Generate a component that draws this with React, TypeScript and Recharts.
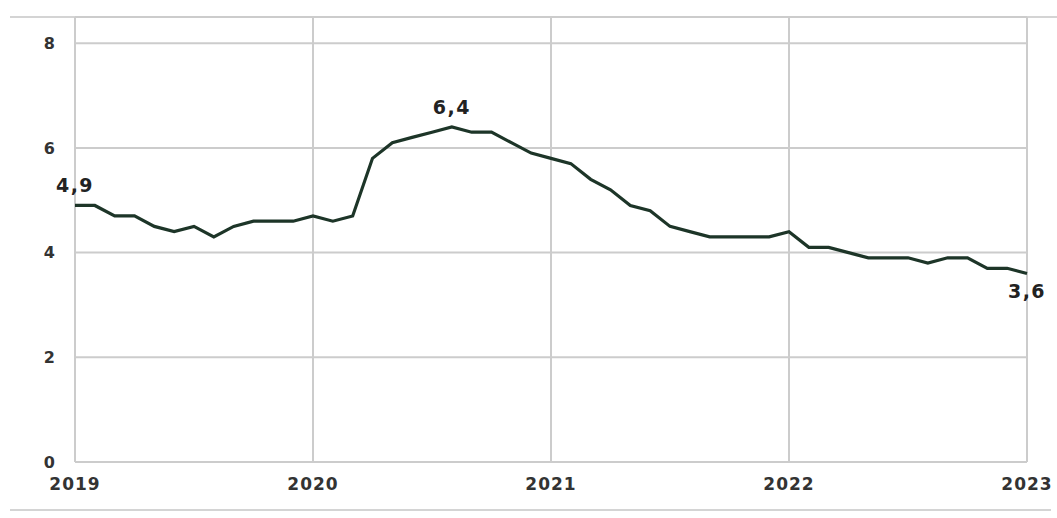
import React from "react";
import {
  CartesianGrid,
  Line,
  LineChart,
  XAxis,
  YAxis,
} from "recharts";

// monthly values, Jan 2019 .. Jan 2023
const years = ["2019", "2020", "2021", "2022", "2023"];
const values = [
  4.9, 4.9, 4.7, 4.7, 4.5, 4.4, 4.5, 4.3, 4.5, 4.6, 4.6, 4.6,
  4.7, 4.6, 4.7, 5.8, 6.1, 6.2, 6.3, 6.4, 6.3, 6.3, 6.1, 5.9,
  5.8, 5.7, 5.4, 5.2, 4.9, 4.8, 4.5, 4.4, 4.3, 4.3, 4.3, 4.3,
  4.4, 4.1, 4.1, 4.0, 3.9, 3.9, 3.9, 3.8, 3.9, 3.9, 3.7, 3.7,
  3.6,
];
const yTicks = [0, 2, 4, 6, 8];
const xTicks = [0, 12, 24, 36, 48];
// points that carry a value label, and where the label goes
const labelledAbove = [0, 19];
const labelledBelow = [48];

const data = values.map((v, i) => ({ t: i, value: v }));

const LINE_COLOR = "#1d3528";
const FONT = "'DejaVu Sans', sans-serif";

const fmt = (v: number) => v.toFixed(1).replace(".", ",");

function PointLabel(props: any) {
  const { x, y, index, value } = props;
  const above = labelledAbove.includes(index);
  const below = labelledBelow.includes(index);
  if (!above && !below) return null;
  return (
    <text
      x={x}
      y={above ? y - 13 : y + 24}
      textAnchor="middle"
      fontFamily={FONT}
      fontSize={19}
      fontWeight={700}
      letterSpacing={1.5}
      fill="#222"
    >
      {fmt(value)}
    </text>
  );
}

export default function App() {
  return (
    <div
      style={{
        position: "absolute",
        left: 0,
        top: 0,
        width: 1057,
        height: 518,
        background: "#fff",
      }}
    >
      <div
        style={{
          position: "absolute",
          left: 10,
          right: 0,
          top: 16,
          borderTop: "2px solid #d4d4d4",
        }}
      />
      <div
        style={{
          position: "absolute",
          left: 10,
          right: 6,
          top: 509,
          borderTop: "2px solid #d4d4d4",
        }}
      />
      <LineChart
        width={1057}
        height={518}
        data={data}
        margin={{ top: 17, right: 30, bottom: 26, left: 0 }}
      >
        <CartesianGrid stroke="#cccccc" strokeWidth={2} />
        <XAxis
          dataKey="t"
          type="number"
          domain={[0, 48]}
          ticks={xTicks}
          tickFormatter={(t: number) => years[t / 12]}
          axisLine={false}
          tickLine={false}
          tickMargin={10}
          height={30}
          interval={0}
          tick={{ fontSize: 17, fill: "#333", fontFamily: FONT, fontWeight: 600, letterSpacing: 1 }}
        />
        <YAxis
          domain={[0, 8.5]}
          ticks={yTicks}
          width={75}
          axisLine={false}
          tickLine={false}
          tickMargin={14}
          tick={{ fontSize: 16, fill: "#333", fontFamily: FONT, fontWeight: 600 }}
        />
        <Line
          type="linear"
          dataKey="value"
          stroke={LINE_COLOR}
          strokeWidth={3.2}
          dot={false}
          activeDot={false}
          isAnimationActive={false}
          label={PointLabel}
        />
      </LineChart>
    </div>
  );
}
